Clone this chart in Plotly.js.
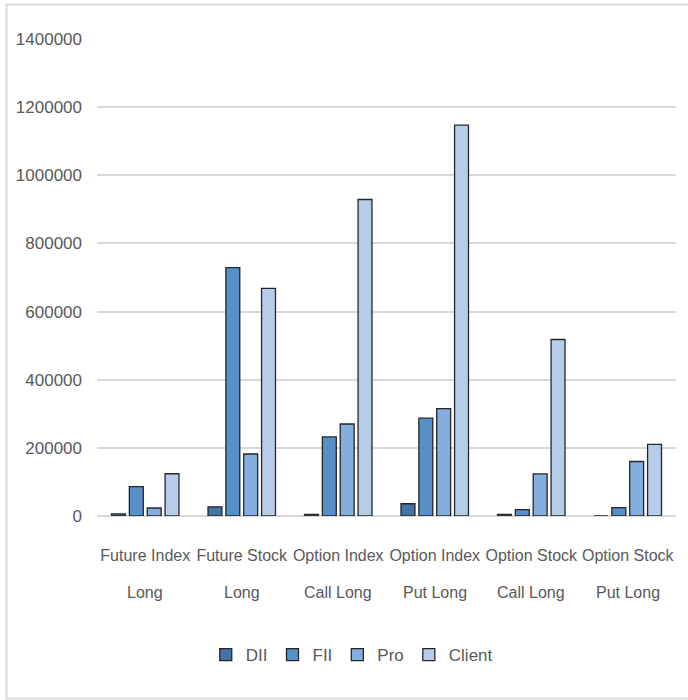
<!DOCTYPE html>
<html>
<head>
<meta charset="utf-8">
<script src="https://cdn.plot.ly/plotly-3.0.1.min.js"></script>
<style>
  html, body { margin: 0; padding: 0; background: #ffffff; }
  #chart { width: 688px; height: 700px; }
</style>
</head>
<body>
<div id="chart"></div>
<script>
// Category labels, split into the two lines that sit under each group
const labelLine1 = ["Future Index", "Future Stock", "Option Index", "Option Index", "Option Stock", "Option Stock"];
const labelLine2 = ["Long", "Long", "Call Long", "Put Long", "Call Long", "Put Long"];
const categories = labelLine1.map((t, i) => t + " " + labelLine2[i]);

// Participant-wise long positions
const seriesNames = ["DII", "FII", "Pro", "Client"];
const dii    = [6000,   27000,  5000,   36000,   5000,   0];
const fii    = [86000,  729000, 232000, 287000,  18500,  24500];
const pro    = [23500,  182000, 270000, 315000,  123500, 160000];
const client = [124000, 668000, 929000, 1147000, 518000, 210000];

const yTicks = [0, 200000, 400000, 600000, 800000, 1000000, 1200000, 1400000];

const colors = ["#4473a6", "#5590c9", "#83aedd", "#b7cce9"];
const values = [dii, fii, pro, client];

const traces = seriesNames.map((name, i) => ({
  type: "bar",
  name: name,
  x: categories,
  y: values[i],
  marker: { color: colors[i], line: { color: "#262626", width: 1.3 } },
  hoverinfo: "x+y+name"
}));

// Margins chosen so the plot area spans x 97..676, y 39..516
const M = { l: 97, r: 12, t: 39, b: 184 };
const plotW = 688 - M.l - M.r;
const plotH = 700 - M.t - M.b;
const px2x = px => (px - M.l) / plotW;
const py2y = py => (700 - M.b - py) / plotH;

const font = "'Liberation Sans', Arial, sans-serif";
const textColor = "#595959";

const secondLine = categories.map((c, i) => ({
  xref: "x", yref: "paper",
  x: c, y: py2y(592),
  text: labelLine2[i],
  showarrow: false,
  xanchor: "center", yanchor: "middle",
  font: { family: font, size: 16, color: textColor }
}));

const layout = {
  width: 688,
  height: 700,
  margin: M,
  paper_bgcolor: "#ffffff",
  plot_bgcolor: "#ffffff",
  barmode: "group",
  bargap: 0.26,
  bargroupgap: 0.22,
  font: { family: font, size: 16, color: textColor },
  xaxis: {
    tickmode: "array",
    tickvals: categories,
    ticktext: labelLine1,
    tickangle: 0,
    showgrid: false,
    zeroline: false,
    showline: false,
    ticks: "",
    ticklabelstandoff: 28,
    tickfont: { family: font, size: 16, color: textColor },
    fixedrange: true
  },
  yaxis: {
    range: [0, 1400000],
    tickmode: "array",
    tickvals: yTicks,
    ticktext: yTicks.map(v => String(v)),
    showgrid: true,
    gridcolor: "#d9d9d9",
    gridwidth: 1.5,
    zeroline: true,
    zerolinecolor: "#d9d9d9",
    zerolinewidth: 1.5,
    showline: false,
    ticks: "",
    ticklabelstandoff: 14,
    tickfont: { family: font, size: 17, color: textColor },
    fixedrange: true
  },
  showlegend: true,
  legend: {
    orientation: "h",
    x: 0.44, xanchor: "center",
    y: py2y(655), yanchor: "middle",
    font: { family: font, size: 17, color: textColor },
    itemwidth: 30,
    traceorder: "normal"
  },
  annotations: secondLine,
  shapes: [{
    type: "rect", xref: "paper", yref: "paper",
    x0: px2x(6.5), x1: px2x(692),
    y0: py2y(698.5), y1: py2y(4.5),
    line: { color: "#d9d9d9", width: 2 },
    fillcolor: "rgba(0,0,0,0)",
    layer: "below"
  }]
};

Plotly.newPlot("chart", traces, layout, { displayModeBar: false, responsive: false });
</script>
</body>
</html>
